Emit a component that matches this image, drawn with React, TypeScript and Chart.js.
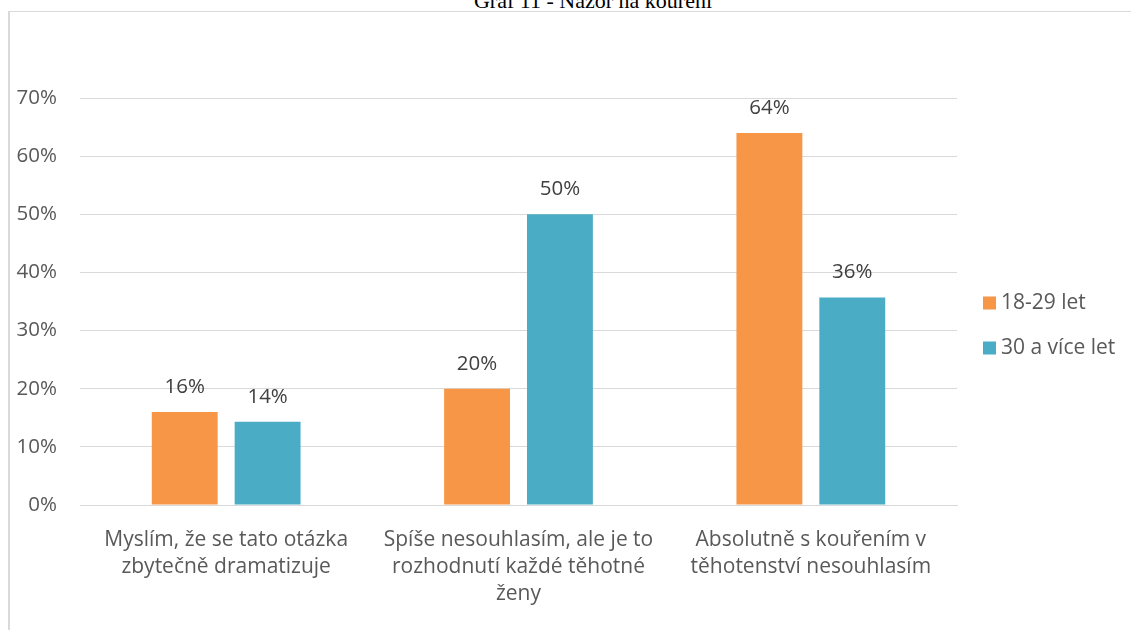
import React, { useEffect, useRef } from "react";
import { Chart, registerables } from "chart.js";

Chart.register(...registerables);

const titleText = "Graf 11 - Názor na kouření";
const categories: string[][] = [
  ["Myslím, že se tato otázka", "zbytečně dramatizuje"],
  ["Spíše nesouhlasím, ale je to", "rozhodnutí každé těhotné", "ženy"],
  ["Absolutně s kouřením v", "těhotenství nesouhlasím"],
];
const seriesNames = ["18-29 let", "30 a více let"];
const seriesColors = ["#F79646", "#4BACC6"];
const young = [16, 20, 64];
const older = [14.3, 50, 35.7];
const yMin = 0;
const yMax = 70;
const yStep = 10;

const FONT = "'Open Sans', Lato, sans-serif";
const TEXT = "#595959";
const LABEL = "#404040";
const GRID = "#d9d9d9";
const FS_CAT = 21;
const FS_NUM = 20.5;

const valueLabels = {
  id: "valueLabels",
  afterDatasetsDraw(chart: any) {
    const ctx = chart.ctx;
    ctx.save();
    ctx.font = `${FS_NUM}px ${FONT}`;
    ctx.fillStyle = LABEL;
    ctx.textAlign = "center";
    ctx.textBaseline = "middle";
    chart.data.datasets.forEach((ds: any, di: number) => {
      const meta = chart.getDatasetMeta(di);
      meta.data.forEach((bar: any, i: number) => {
        const v = ds.data[i];
        ctx.fillText(Math.round(v) + "%", bar.x, bar.y - 25);
      });
    });
    ctx.restore();
  },
};

const sideLegend = {
  id: "sideLegend",
  afterDraw(chart: any) {
    const ctx = chart.ctx;
    const area = chart.chartArea;
    const mid = (area.top + area.bottom) / 2;
    const gap = 45;
    const startY = mid + 1.5;
    ctx.save();
    ctx.font = `${FS_CAT}px ${FONT}`;
    ctx.textAlign = "left";
    ctx.textBaseline = "middle";
    chart.data.datasets.forEach((ds: any, i: number) => {
      const cy = startY + i * gap;
      const x = area.right + 26;
      ctx.fillStyle = ds.backgroundColor;
      ctx.fillRect(x, cy - 6.5, 13, 13);
      ctx.fillStyle = TEXT;
      ctx.fillText(ds.label, x + 18, cy);
    });
    ctx.restore();
  },
};

export default function App() {
  const ref = useRef<HTMLCanvasElement | null>(null);

  useEffect(() => {
    if (!ref.current) return;
    const chart = new Chart(ref.current, {
      type: "bar",
      data: {
        labels: categories,
        datasets: [
          { label: seriesNames[0], data: young, backgroundColor: seriesColors[0] },
          { label: seriesNames[1], data: older, backgroundColor: seriesColors[1] },
        ],
      },
      options: {
        animation: false,
        responsive: false,
        maintainAspectRatio: false,
        layout: { padding: { left: 8, top: 98, right: 174, bottom: 0 } },
        datasets: {
          bar: { categoryPercentage: 0.567, barPercentage: 0.795 },
        },
        plugins: {
          legend: { display: false },
          title: { display: false },
          tooltip: { enabled: false },
        },
        scales: {
          x: {
            grid: { display: false, drawTicks: false },
            border: { display: true, color: GRID, width: 1 },
            ticks: {
              color: TEXT,
              font: { family: FONT, size: FS_CAT, lineHeight: 27 / FS_CAT },
              padding: 22,
              maxRotation: 0,
              autoSkip: false,
            },
            afterFit: (s: any) => {
              s.height = 125;
            },
          },
          y: {
            min: yMin,
            max: yMax,
            grid: { color: GRID, lineWidth: 1, drawTicks: false },
            border: { display: false },
            ticks: {
              stepSize: yStep,
              color: TEXT,
              font: { family: FONT, size: FS_NUM },
              padding: 23,
              callback: (v: any) => v + "%",
            },
            afterFit: (s: any) => {
              s.width = 72;
            },
          },
        },
      },
      plugins: [valueLabels, sideLegend],
    });
    return () => chart.destroy();
  }, []);

  return (
    <div
      style={{
        position: "fixed",
        left: 0,
        top: 0,
        width: 1131,
        height: 630,
        overflow: "hidden",
        background: "#fff",
      }}
    >
      <div
        style={{
          position: "absolute",
          left: 8,
          top: 11,
          width: 1200,
          height: 700,
          borderTop: `1px solid ${GRID}`,
          borderLeft: `2px solid ${GRID}`,
          boxSizing: "border-box",
        }}
      />
      <div
        style={{
          position: "absolute",
          left: 593,
          top: -10,
          transform: "translateX(-50%)",
          whiteSpace: "nowrap",
          fontFamily: "'Liberation Serif', 'Times New Roman', serif",
          fontSize: 22,
          lineHeight: "22px",
          color: "#000",
        }}
      >
        {titleText}
      </div>
      <canvas
        ref={ref}
        width={1131}
        height={630}
        style={{ position: "absolute", left: 0, top: 0, width: 1131, height: 630 }}
      />
    </div>
  );
}
